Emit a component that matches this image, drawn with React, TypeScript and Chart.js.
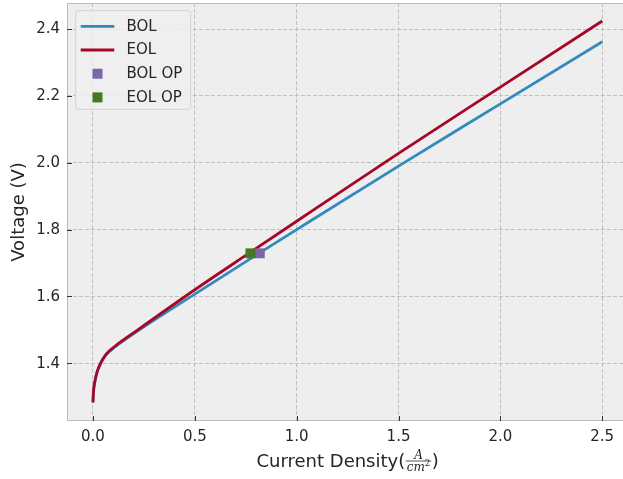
import React, { useEffect, useRef } from "react";
import { Chart, registerables } from "chart.js";

Chart.register(...registerables);

// ---- data ----
const bolCurrent = [0, 0.002, 0.011, 0.021, 0.038, 0.064, 0.108, 0.22, 0.5, 0.82, 1.0, 1.5, 2.0, 2.5];
const bolVoltage = [1.283, 1.311, 1.35, 1.375, 1.4, 1.425, 1.449, 1.497, 1.607, 1.731, 1.8, 1.99, 2.176, 2.362];
const eolCurrent = [0, 0.002, 0.011, 0.021, 0.038, 0.064, 0.108, 0.22, 0.5, 0.77, 1.0, 1.5, 2.0, 2.5];
const eolVoltage = [1.283, 1.311, 1.351, 1.376, 1.401, 1.427, 1.451, 1.5, 1.62, 1.731, 1.825, 2.028, 2.226, 2.424];
const bolOpCurrent = [0.819];
const bolOpVoltage = [1.729];
const eolOpCurrent = [0.773];
const eolOpVoltage = [1.729];
const xTicks = [0, 0.5, 1.0, 1.5, 2.0, 2.5];
const yTicks = [1.4, 1.6, 1.8, 2.0, 2.2, 2.4];
const xTickLabels = ["0.0", "0.5", "1.0", "1.5", "2.0", "2.5"];
const yTickLabels = ["1.4", "1.6", "1.8", "2.0", "2.2", "2.4"];
const seriesLabels = ["BOL", "EOL", "BOL OP", "EOL OP"];
const seriesColors = ["#348ABD", "#A60628", "#7A68A6", "#467821"];
const xTitleMain = "Current Density(";
const xTitleNum = "A";
const xTitleDen = "cm";
const xTitleExp = "2";
const xTitleClose = ")";
const yTitle = "Voltage (V)";

const X_MIN = -0.1275;
const X_MAX = 2.602;
const Y_MIN = 1.2274;
const Y_MAX = 2.4778;

const FONT = "'DejaVu Sans', sans-serif";
const TEXT = "#262626";

const pts = (xs: number[], ys: number[]) => xs.map((x, i) => ({ x, y: ys[i] }));

const decorPlugin = {
  id: "decor",
  beforeDraw(chart: any) {
    const { ctx, chartArea: a } = chart;
    ctx.save();
    ctx.fillStyle = "#ffffff";
    ctx.fillRect(0, 0, chart.width, chart.height);
    ctx.fillStyle = "#eeeeee";
    ctx.fillRect(a.left, a.top, a.right - a.left, a.bottom - a.top);
    ctx.restore();
  },
  afterDraw(chart: any) {
    const { ctx, chartArea: a } = chart;
    const xs = chart.scales.x;
    const ys = chart.scales.y;
    ctx.save();
    // frame (left, top, bottom; right side is cut off in the reference)
    ctx.strokeStyle = "#bcbcbc";
    ctx.lineWidth = 1;
    ctx.beginPath();
    ctx.moveTo(a.right, a.top + 0.5);
    ctx.lineTo(a.left + 0.5, a.top + 0.5);
    ctx.lineTo(a.left + 0.5, a.bottom - 0.5);
    ctx.lineTo(a.right, a.bottom - 0.5);
    ctx.stroke();
    // inward ticks
    ctx.strokeStyle = "#333333";
    ctx.beginPath();
    xTicks.forEach((v) => {
      const px = Math.round(xs.getPixelForValue(v)) + 0.5;
      ctx.moveTo(px, a.bottom);
      ctx.lineTo(px, a.bottom - 5);
    });
    yTicks.forEach((v) => {
      const py = Math.round(ys.getPixelForValue(v)) + 0.5;
      ctx.moveTo(a.left, py);
      ctx.lineTo(a.left + 5, py);
    });
    ctx.stroke();

    // tick labels
    ctx.fillStyle = TEXT;
    ctx.font = `15px ${FONT}`;
    ctx.textBaseline = "middle";
    ctx.textAlign = "center";
    xTicks.forEach((v, i) => {
      ctx.fillText(xTickLabels[i], xs.getPixelForValue(v), a.bottom + 16.5);
    });
    ctx.textAlign = "right";
    yTicks.forEach((v, i) => {
      ctx.fillText(yTickLabels[i], a.left - 7, ys.getPixelForValue(v) + 0.5);
    });

    // y title
    ctx.save();
    ctx.translate(19.5, (a.top + a.bottom) / 2);
    ctx.rotate(-Math.PI / 2);
    ctx.font = `18px ${FONT}`;
    ctx.textAlign = "center";
    ctx.textBaseline = "middle";
    ctx.fillText(yTitle, 0, 0);
    ctx.restore();

    // legend
    const lx = a.left + 8.7;
    const ly = a.top + 7.7;
    const lw = 115;
    const lh = 98.6;
    const r = 3;
    ctx.beginPath();
    ctx.moveTo(lx + r, ly);
    ctx.lineTo(lx + lw - r, ly);
    ctx.arcTo(lx + lw, ly, lx + lw, ly + r, r);
    ctx.lineTo(lx + lw, ly + lh - r);
    ctx.arcTo(lx + lw, ly + lh, lx + lw - r, ly + lh, r);
    ctx.lineTo(lx + r, ly + lh);
    ctx.arcTo(lx, ly + lh, lx, ly + lh - r, r);
    ctx.lineTo(lx, ly + r);
    ctx.arcTo(lx, ly, lx + r, ly, r);
    ctx.closePath();
    ctx.fillStyle = "rgba(238,238,238,0.85)";
    ctx.fill();
    ctx.strokeStyle = "#d2d2d2";
    ctx.lineWidth = 1;
    ctx.stroke();
    const datasets = chart.data.datasets;
    datasets.forEach((ds: any, i: number) => {
      const cy = ly + 15.6 + i * 23.7;
      const hx0 = lx + 5;
      const hx1 = lx + 38.6;
      if (ds.showLine) {
        ctx.strokeStyle = ds.borderColor;
        ctx.lineWidth = ds.borderWidth;
        ctx.beginPath();
        ctx.moveTo(hx0, cy);
        ctx.lineTo(hx1, cy);
        ctx.stroke();
      } else {
        ctx.fillStyle = ds.backgroundColor;
        const s = 10;
        ctx.fillRect((hx0 + hx1) / 2 - s / 2, cy - s / 2, s, s);
      }
      ctx.fillStyle = TEXT;
      ctx.font = `15px ${FONT}`;
      ctx.textBaseline = "middle";
      ctx.textAlign = "left";
      ctx.fillText(ds.label, lx + 50.8, cy + 0.5);
    });

    // x-axis title with fraction
    const cx = xs.getPixelForValue((xTicks[0] + xTicks[xTicks.length - 1]) / 2);
    const base = a.bottom + 46;
    const mainFont = `18px ${FONT}`;
    const fracFont = "italic 12px 'DejaVu Serif', serif";
    const supFont = "8.5px 'DejaVu Serif', serif";
    ctx.textBaseline = "alphabetic";
    ctx.textAlign = "left";
    ctx.font = mainFont;
    const wMain = ctx.measureText(xTitleMain).width;
    const wClose = ctx.measureText(xTitleClose).width;
    ctx.font = fracFont;
    const wNum = ctx.measureText(xTitleNum).width;
    const wDen = ctx.measureText(xTitleDen).width;
    ctx.font = supFont;
    const wExp = ctx.measureText(xTitleExp).width;
    const fracW = Math.max(wNum, wDen + wExp) + 3;
    const total = wMain + fracW + wClose;
    const sx = cx - total / 2;
    ctx.fillStyle = TEXT;
    ctx.font = mainFont;
    ctx.fillText(xTitleMain, sx, base);
    const fx = sx + wMain;
    const fc = fx + fracW / 2;
    ctx.strokeStyle = TEXT;
    ctx.lineWidth = 0.8;
    ctx.beginPath();
    ctx.moveTo(fx + 0.5, base - 6);
    ctx.lineTo(fx + fracW - 0.5, base - 6);
    ctx.stroke();
    ctx.font = fracFont;
    ctx.fillText(xTitleNum, fc - wNum / 2, base - 8.5);
    const dx = fc - (wDen + wExp) / 2;
    ctx.fillText(xTitleDen, dx, base + 3.5);
    ctx.font = supFont;
    ctx.fillText(xTitleExp, dx + wDen, base - 1);
    ctx.font = mainFont;
    ctx.fillText(xTitleClose, fx + fracW, base);
    ctx.restore();
  },
};

export default function App() {
  const ref = useRef<HTMLCanvasElement>(null);
  useEffect(() => {
    const canvas = ref.current;
    if (!canvas) return;
    Chart.defaults.font.family = FONT;
    const chart = new Chart(canvas, {
      type: "scatter",
      data: {
        datasets: [
          {
            label: seriesLabels[0],
            data: pts(bolCurrent, bolVoltage),
            showLine: true,
            borderColor: seriesColors[0],
            backgroundColor: seriesColors[0],
            borderWidth: 2.8,
            pointRadius: 0,
            pointHoverRadius: 0,
            cubicInterpolationMode: "monotone",
            order: 4,
          },
          {
            label: seriesLabels[1],
            data: pts(eolCurrent, eolVoltage),
            showLine: true,
            borderColor: seriesColors[1],
            backgroundColor: seriesColors[1],
            borderWidth: 2.8,
            pointRadius: 0,
            pointHoverRadius: 0,
            cubicInterpolationMode: "monotone",
            order: 3,
          },
          {
            label: seriesLabels[2],
            data: pts(bolOpCurrent, bolOpVoltage),
            showLine: false,
            pointStyle: "rect",
            pointRadius: 7,
            pointHoverRadius: 7,
            borderWidth: 0,
            borderColor: seriesColors[2],
            backgroundColor: seriesColors[2],
            order: 2,
          },
          {
            label: seriesLabels[3],
            data: pts(eolOpCurrent, eolOpVoltage),
            showLine: false,
            pointStyle: "rect",
            pointRadius: 7,
            pointHoverRadius: 7,
            borderWidth: 0,
            borderColor: seriesColors[3],
            backgroundColor: seriesColors[3],
            order: 1,
          },
        ] as any,
      },
      options: {
        animation: false,
        responsive: false,
        devicePixelRatio: 1,
        events: [],
        layout: { autoPadding: false, padding: { top: 3, left: 0, right: 0, bottom: 0 } },
        plugins: { legend: { display: false }, tooltip: { enabled: false } },
        scales: {
          x: {
            type: "linear",
            min: X_MIN,
            max: X_MAX,
            afterBuildTicks: (s: any) => {
              s.ticks = xTicks.map((v) => ({ value: v }));
            },
            afterFit: (s: any) => {
              s.height = 58;
              s.paddingLeft = 0;
              s.paddingRight = 0;
            },
            ticks: { display: false },
            grid: { color: "#c0c0c0", lineWidth: 1, drawTicks: false, borderDash: [4, 2] } as any,
            border: { display: false, dash: [4, 2] },
          },
          y: {
            type: "linear",
            min: Y_MIN,
            max: Y_MAX,
            afterBuildTicks: (s: any) => {
              s.ticks = yTicks.map((v) => ({ value: v }));
            },
            afterFit: (s: any) => {
              s.width = 67;
              s.paddingTop = 0;
              s.paddingBottom = 0;
            },
            ticks: { display: false },
            grid: { color: "#c0c0c0", lineWidth: 1, drawTicks: false, borderDash: [4, 2] } as any,
            border: { display: false, dash: [4, 2] },
          },
        },
      } as any,
      plugins: [decorPlugin],
    });
    return () => chart.destroy();
  }, []);
  return (
    <div style={{ position: "fixed", left: 0, top: 0, width: 623, height: 479, background: "#fff", overflow: "hidden" }}>
      <canvas ref={ref} width={623} height={479} style={{ display: "block", width: 623, height: 479 }} />
    </div>
  );
}
